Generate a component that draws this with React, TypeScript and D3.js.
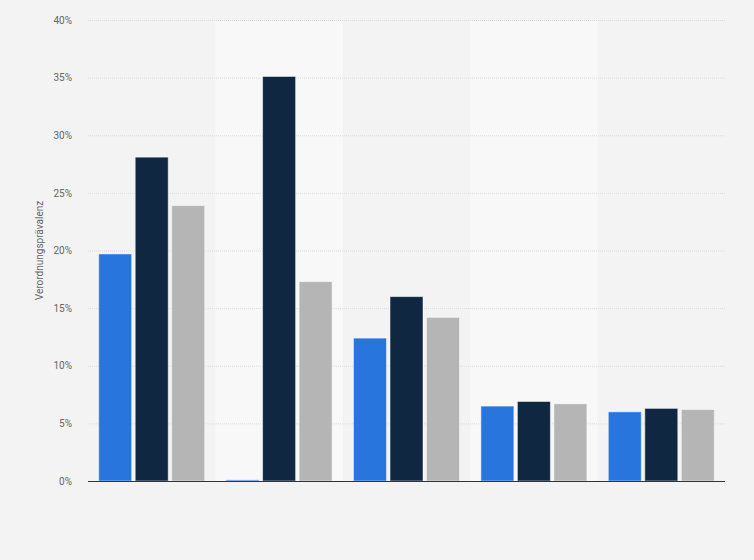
import { useEffect, useRef } from "react";
import * as d3 from "d3";

// Gruppen (ohne sichtbare Beschriftung im Original)
const categories = ["Gruppe 1", "Gruppe 2", "Gruppe 3", "Gruppe 4", "Gruppe 5"];
const seriesNames = ["Reihe A", "Reihe B", "Reihe C"];
const seriesA = [19.7, 0.1, 12.4, 6.5, 6.0];
const seriesB = [28.1, 35.1, 16.0, 6.9, 6.3];
const seriesC = [23.9, 17.3, 14.2, 6.7, 6.2];
const yTicks = [0, 5, 10, 15, 20, 25, 30, 35, 40];
const colors = ["#2876dd", "#0f2740", "#b5b5b5"];

export default function App() {
  const ref = useRef<SVGSVGElement>(null);

  useEffect(() => {
    const svg = d3.select(ref.current);
    svg.selectAll("*").remove();

    const W = 754;
    const H = 560;
    const m = { top: 20, right: 29, bottom: 79, left: 88 };

    svg.append("rect").attr("width", W).attr("height", H).attr("fill", "#f3f3f3");

    const x0 = d3
      .scaleBand<string>()
      .domain(categories)
      .range([m.left, W - m.right])
      .paddingInner(0)
      .paddingOuter(0);
    const x1 = d3
      .scaleBand<string>()
      .domain(seriesNames)
      .range([0, x0.bandwidth()])
      .paddingInner(0.096)
      .paddingOuter(0.293);
    const y = d3.scaleLinear().domain([0, 40]).range([H - m.bottom, m.top]);

    // alternierende Hintergrundstreifen
    svg
      .append("g")
      .selectAll("rect")
      .data(categories.filter((_, i) => i % 2 === 1))
      .enter()
      .append("rect")
      .attr("x", (d) => x0(d)!)
      .attr("y", m.top)
      .attr("width", x0.bandwidth())
      .attr("height", y(0) - m.top)
      .attr("fill", "#f8f8f8");

    // Gitterlinien
    svg
      .append("g")
      .selectAll("line")
      .data(yTicks.filter((t) => t > 0))
      .enter()
      .append("line")
      .attr("x1", m.left)
      .attr("x2", W - m.right)
      .attr("y1", (d) => y(d) + 0.5)
      .attr("y2", (d) => y(d) + 0.5)
      .attr("stroke", "#dcdcdc")
      .attr("stroke-dasharray", "1,1");

    // Y-Achse Beschriftung
    const yAxis = d3
      .axisLeft(y)
      .tickValues(yTicks)
      .tickFormat((d) => d + "%")
      .tickSize(0)
      .tickPadding(16);
    const ga = svg.append("g").attr("transform", `translate(${m.left},0)`).call(yAxis);
    ga.select(".domain").remove();
    ga.selectAll("text")
      .attr("fill", "#666")
      .attr("font-size", 10)
      .attr("font-family", "Roboto, Arial, sans-serif");

    svg
      .append("text")
      .attr("transform", `translate(43,${(m.top + y(0)) / 2}) rotate(-90)`)
      .attr("text-anchor", "middle")
      .attr("fill", "#666")
      .attr("font-size", 10)
      .attr("font-family", "Roboto, Arial, sans-serif")
      .text("Verordnungsprävalenz");

    // Balken
    const series = [seriesA, seriesB, seriesC];
    const groups = svg
      .append("g")
      .selectAll("g")
      .data(categories)
      .enter()
      .append("g")
      .attr("transform", (d) => `translate(${x0(d)},0)`);

    groups
      .selectAll("rect")
      .data((_, i) => series.map((s, j) => ({ name: seriesNames[j], v: s[i], c: colors[j] })))
      .enter()
      .append("rect")
      .attr("x", (d) => x1(d.name)!)
      .attr("y", (d) => y(d.v))
      .attr("width", x1.bandwidth())
      .attr("height", (d) => y(0) - y(d.v))
      .attr("fill", (d) => d.c)
      .attr("stroke", "rgba(255,255,255,0.5)")
      .attr("stroke-width", 1);

    // Nulllinie
    svg
      .append("line")
      .attr("x1", m.left)
      .attr("x2", W - m.right)
      .attr("y1", y(0) + 0.5)
      .attr("y2", y(0) + 0.5)
      .attr("stroke", "#333")
      .attr("stroke-width", 1.2);
  }, []);

  return (
    <svg
      ref={ref}
      width={754}
      height={560}
      style={{ position: "absolute", left: 0, top: 0, display: "block" }}
    />
  );
}
